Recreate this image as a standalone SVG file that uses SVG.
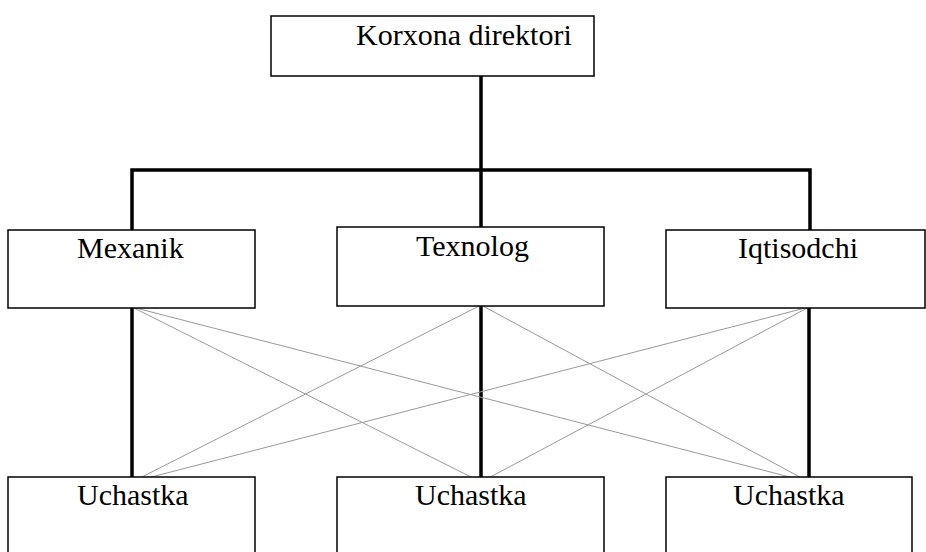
<svg xmlns="http://www.w3.org/2000/svg" width="926" height="552" viewBox="0 0 926 552">
<style>
.box{fill:#fff;stroke:#000;stroke-width:1.5}
.lbl{font-family:"Liberation Serif","Times New Roman",serif;font-size:30px;fill:#000}
.thick{stroke:#000;stroke-width:3.5;fill:none}
.thin{stroke:#999;stroke-width:1;fill:none}
</style>
<rect width="926" height="552" fill="#fff"/>
<g id="connectors">
<line class="thick" x1="481" y1="76" x2="481" y2="230"/>
<polyline class="thick" points="132,230 132,170 810,170 810,230"/>
<line class="thick" x1="132" y1="308" x2="132" y2="481"/>
<line class="thick" x1="481" y1="306" x2="481" y2="481"/>
<line class="thick" x1="809" y1="308" x2="809" y2="481"/>
<line class="thin" x1="132" y1="307" x2="481" y2="482"/>
<line class="thin" x1="132" y1="307" x2="809" y2="482"/>
<line class="thin" x1="481" y1="305" x2="132" y2="482"/>
<line class="thin" x1="481" y1="305" x2="809" y2="482"/>
<line class="thin" x1="809" y1="307" x2="132" y2="482"/>
<line class="thin" x1="809" y1="307" x2="481" y2="482"/>
</g>
<g id="director">
<rect class="box" x="271" y="16" width="323" height="60"/>
<text class="lbl" x="356" y="45">Korxona direktori</text>
</g>
<g id="mexanik">
<rect class="box" x="8" y="230" width="247" height="78"/>
<text class="lbl" x="77" y="258">Mexanik</text>
</g>
<g id="texnolog">
<rect class="box" x="337" y="227" width="267" height="79"/>
<text class="lbl" x="416" y="256">Texnolog</text>
</g>
<g id="iqtisodchi">
<rect class="box" x="666" y="230" width="259" height="78"/>
<text class="lbl" x="738" y="258">Iqtisodchi</text>
</g>
<g id="uchastka1">
<rect class="box" x="8" y="477" width="247" height="90"/>
<text class="lbl" x="77" y="505">Uchastka</text>
</g>
<g id="uchastka2">
<rect class="box" x="337" y="477" width="267" height="90"/>
<text class="lbl" x="415" y="505">Uchastka</text>
</g>
<g id="uchastka3">
<rect class="box" x="666" y="477" width="246" height="90"/>
<text class="lbl" x="733" y="505">Uchastka</text>
</g>
</svg>
